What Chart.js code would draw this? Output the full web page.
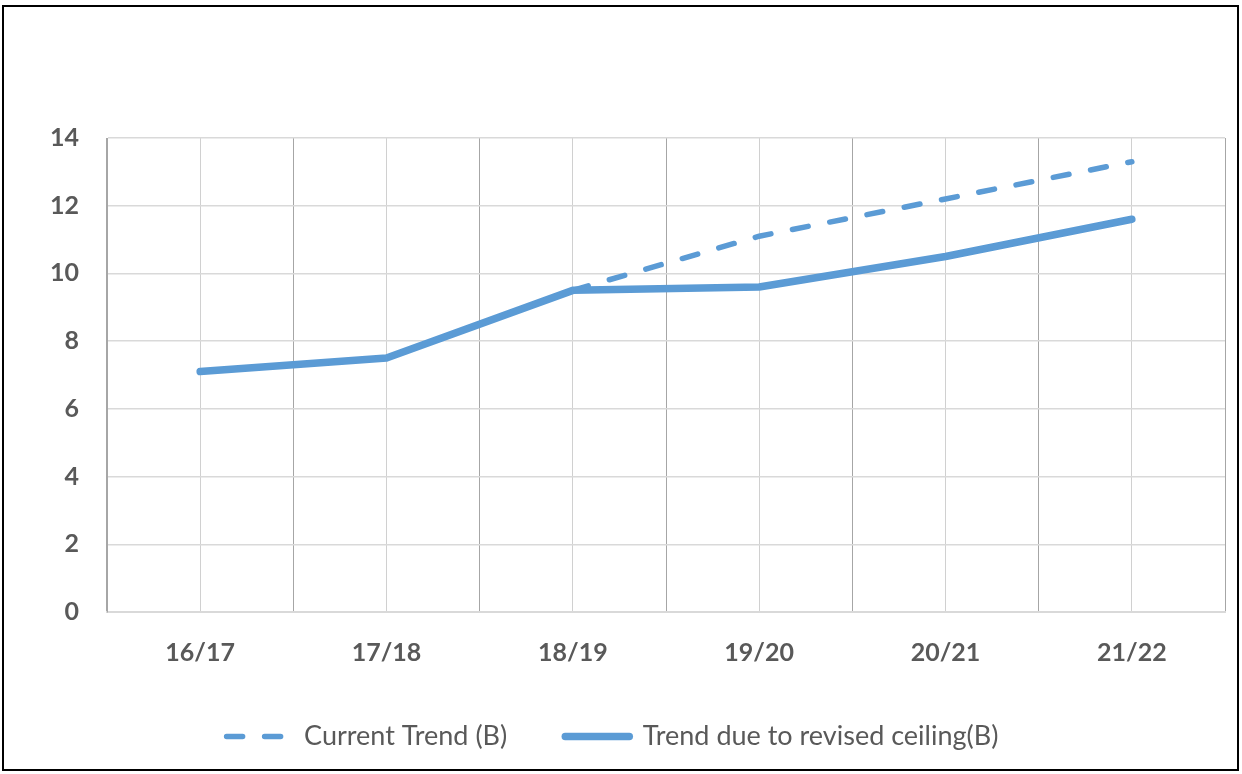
<!DOCTYPE html>
<html>
<head>
<meta charset="utf-8">
<script src="https://cdn.jsdelivr.net/npm/chart.js@4.4.1/dist/chart.umd.min.js"></script>
<style>
  html, body { margin: 0; padding: 0; background: #fff; }
  #wrap { position: relative; width: 1242px; height: 774px; }
  #frame { position: absolute; left: 2px; top: 5px; width: 1237px; height: 766px; border: 2px solid #000; box-sizing: border-box; pointer-events: none; }
</style>
</head>
<body>
<div id="wrap">
  <canvas id="chart" width="1242" height="774"></canvas>
  <div id="frame"></div>
</div>
<script>
// chart data
var years = ["16/17", "17/18", "18/19", "19/20", "20/21", "21/22"];
var currentTrend = [null, null, 9.5, 11.1, 12.2, 13.3];
var revisedTrend = [7.1, 7.5, 9.5, 9.6, 10.5, 11.6];
var yTicks = [0, 2, 4, 6, 8, 10, 12, 14];

var blue = "#5B9BD5";
var textGrey = "#595959";
var font = "Lato, 'Open Sans', sans-serif";

var ctx = document.getElementById("chart").getContext("2d");
var chart = new Chart(ctx, {
  type: "line",
  data: {
    labels: years,
    datasets: [
      {
        label: "Current Trend (B)",
        data: currentTrend,
        borderColor: blue,
        borderWidth: 5.5,
        borderDash: [16, 22],
        borderCapStyle: "round",
        pointRadius: 0,
        fill: false,
        order: 2
      },
      {
        label: "Trend due to revised ceiling(B)",
        data: revisedTrend,
        borderColor: blue,
        borderWidth: 7.5,
        borderCapStyle: "round",
        borderJoinStyle: "round",
        pointRadius: 0,
        fill: false,
        order: 1
      }
    ]
  },
  options: {
    responsive: false,
    animation: false,
    layout: { padding: { top: 138, right: 17, left: 0, bottom: 14 } },
    plugins: {
      tooltip: { enabled: false },
      legend: {
        position: "bottom",
        labels: {
          color: textGrey,
          font: { family: font, size: 27 },
          usePointStyle: true,
          pointStyleWidth: 64,
          boxHeight: 8,
          padding: 58,
          generateLabels: function(c) {
            return c.data.datasets.map(function(ds, i) {
              return {
                text: ds.label,
                datasetIndex: i,
                pointStyle: "line",
                strokeStyle: blue,
                fillStyle: blue,
                fontColor: textGrey,
                lineWidth: i === 0 ? 5.5 : 7.5,
                lineDash: i === 0 ? [16, 22] : [],
                lineCap: "round"
              };
            });
          }
        }
      }
    },
    scales: {
      x: {
        type: "category",
        offset: true,
        grid: { offset: true, color: "#a6a6a6", lineWidth: 1, drawTicks: false },
        border: { color: "#d9d9d9", width: 2 },
        ticks: { color: textGrey, font: { family: font, size: 25, weight: "bold" }, padding: 26 },
        afterFit: function(scale) { scale.height = 53; }
      },
      x2: {
        type: "category",
        position: "bottom",
        offset: true,
        grid: { offset: false, color: "#d0d0d0", lineWidth: 1, drawTicks: false },
        border: { display: false },
        ticks: { display: false },
        afterFit: function(scale) { scale.height = 0; }
      },
      y: {
        min: 0,
        max: 14,
        afterBuildTicks: function(scale) {
          scale.ticks = yTicks.map(function(v) { return { value: v }; });
        },
        grid: { color: "#d9d9d9", lineWidth: 1.5, drawTicks: false },
        border: { color: "#a6a6a6", width: 1 },
        ticks: { color: textGrey, font: { family: font, size: 25, weight: "bold" }, padding: 28 },
        afterFit: function(scale) { scale.width = 107; }
      }
    }
  }
});
</script>
</body>
</html>
